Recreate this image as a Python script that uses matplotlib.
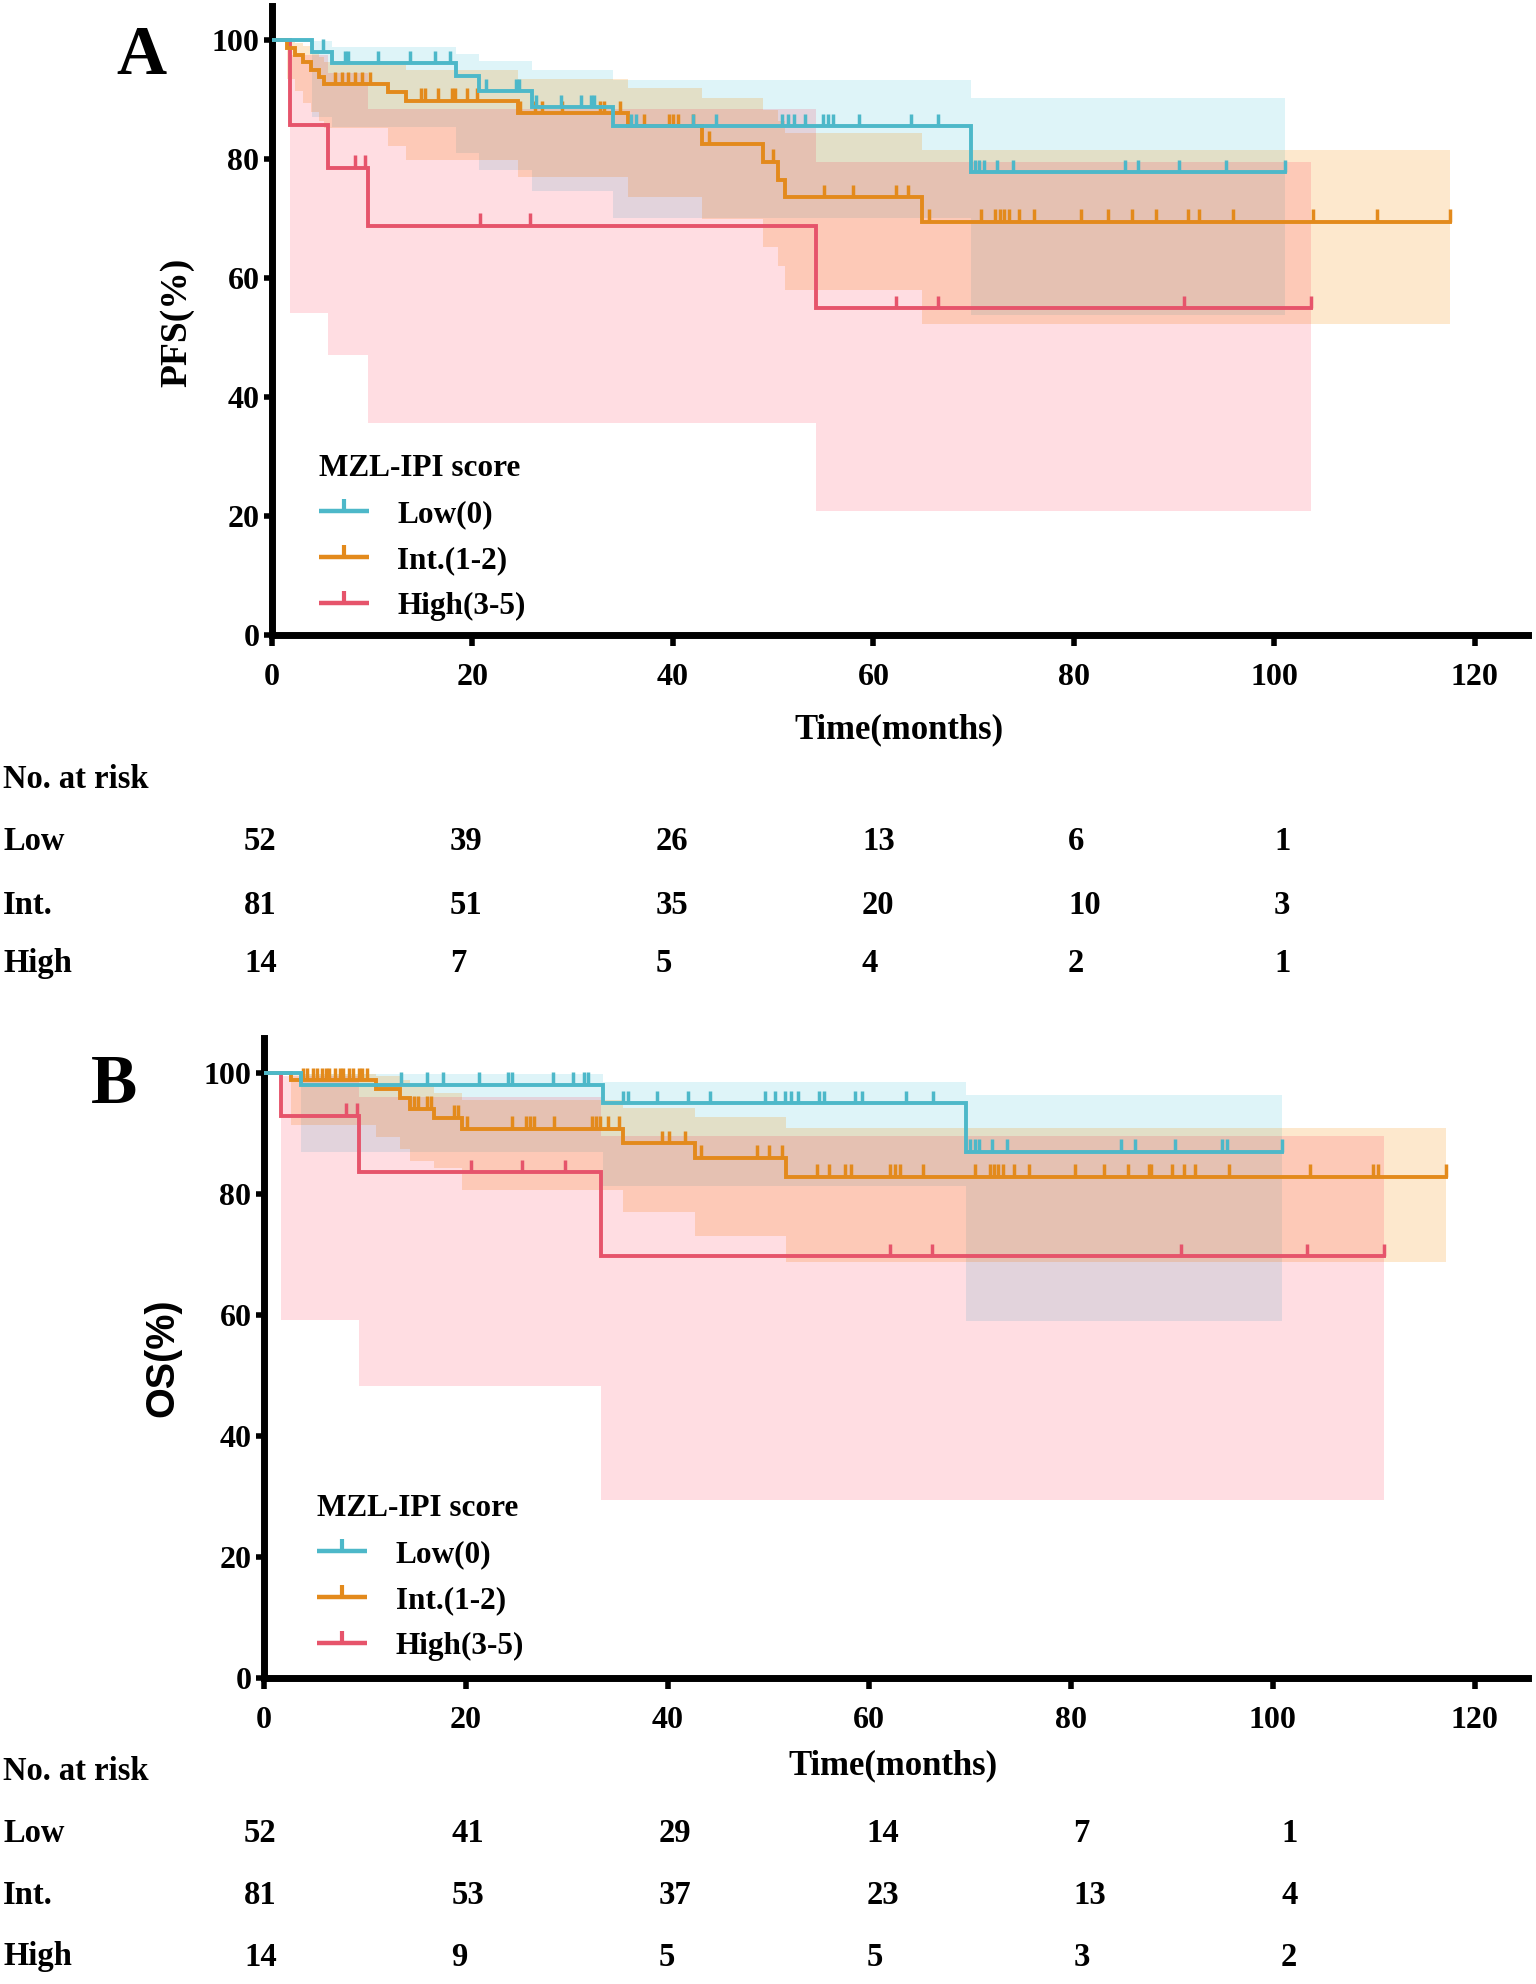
import numpy as np
import matplotlib.pyplot as plt
from matplotlib.path import Path
from matplotlib.lines import Line2D

plt.rcParams['font.family'] = ['Liberation Serif', 'DejaVu Serif']
plt.rcParams['font.weight'] = 'bold'

groups = ['Low(0)', 'Int.(1-2)', 'High(3-5)']
row_names = ['Low', 'Int.', 'High']
line_colors = ['#4DB8C9', '#E38A1C', '#E6546B']
# dark tints with low alpha, so that overlapping bands darken like a multiply blend
band_colors = ['#00AAC9', '#F58A00', '#FF002C']
band_alpha = [0.129, 0.196, 0.133]

# ---------------- PFS (panel A) ----------------
pfs_low_t = [0, 4.0, 6.0, 18.4, 20.7, 25.9, 34.0, 69.7]
pfs_low_s = [100, 98.1, 96.2, 94.0, 91.5, 88.8, 85.6, 77.8]
pfs_low_end = 101.1
pfs_low_cens = [5.1, 7.3, 7.6, 10.6, 13.8, 16.3, 17.8, 21.3, 24.3, 24.6, 26.3, 28.8,
                30.8, 31.8, 32.1, 35.8, 36.3, 42.0, 44.3, 50.9, 51.5, 52.1, 53.2, 55.0,
                55.5, 56.0, 58.6, 63.7, 66.4, 70.1, 70.5, 71.0, 72.3, 73.9, 85.1, 86.4,
                90.5, 95.2, 101.1]
pfs_low_bt = [4.0, 6.0, 18.4, 20.7, 25.9, 34.0, 69.7]
pfs_low_up = [99.9, 98.9, 97.8, 96.5, 95.0, 93.3, 90.3]
pfs_low_lo = [87.1, 85.5, 81.0, 78.2, 74.6, 70.1, 53.8]

pfs_int_t = [0, 1.5, 2.3, 3.1, 3.9, 4.7, 5.2, 11.6, 13.4, 24.5, 35.5, 42.9, 49.0, 50.5, 51.2, 64.8]
pfs_int_s = [100, 98.8, 97.5, 96.3, 95.1, 93.8, 92.6, 91.4, 89.9, 87.8, 85.6, 82.6, 79.6, 76.5, 73.6, 69.5]
pfs_int_end = 117.5
pfs_int_cens = [6.3, 6.95, 7.6, 8.3, 8.95, 9.8, 14.9, 15.3, 16.6, 18.0, 18.3, 19.5, 20.5,
                24.7, 26.2, 26.9, 28.9, 32.7, 33.1, 34.7, 37.1, 39.6, 40.0, 40.5, 42.0,
                43.6, 50.0, 55.1, 58.0, 62.3, 63.4, 65.5, 70.7, 72.1, 72.6, 73.0, 73.5,
                74.5, 76.0, 80.7, 83.4, 85.8, 88.2, 91.4, 92.5, 95.9, 103.9, 110.2, 117.5]
pfs_int_bt = [1.5, 2.3, 3.1, 3.9, 4.7, 5.2, 11.6, 13.4, 24.5, 35.5, 42.9, 49.0, 50.5, 51.2, 64.8]
pfs_int_up = [99.8, 99.5, 99.0, 98.2, 97.3, 96.3, 95.8, 95.0, 93.5, 92.0, 90.3, 88.3, 86.5, 84.4, 81.5]
pfs_int_lo = [93.5, 91.5, 89.5, 88.0, 86.5, 85.2, 82.2, 79.9, 77.1, 73.7, 70.0, 65.3, 62.0, 58.0, 52.3]

pfs_high_t = [0, 1.8, 5.6, 9.6, 54.3]
pfs_high_s = [100, 85.7, 78.6, 68.8, 55.0]
pfs_high_end = 103.7
pfs_high_cens = [8.3, 9.3, 20.8, 25.7, 62.3, 66.4, 91.0, 103.7]
pfs_high_bt = [1.8, 5.6, 9.6, 54.3]
pfs_high_up = [97.5, 94.5, 88.4, 79.6]
pfs_high_lo = [54.1, 47.1, 35.6, 20.8]

# ---------------- OS (panel B) ----------------
os_low_t = [0, 3.7, 33.6, 69.6]
os_low_s = [100, 98.1, 95.0, 87.0]
os_low_end = 100.9
os_low_cens = [13.6, 16.2, 17.7, 21.3, 24.2, 24.6, 28.6, 30.6, 31.7, 32.1, 35.6, 36.1, 39.0,
               42.0, 44.2, 49.7, 50.7, 51.6, 52.2, 52.9, 55.0, 55.5, 58.6, 59.3, 63.6, 66.3,
               70.0, 70.5, 70.9, 72.2, 73.7, 85.0, 86.3, 90.3, 95.0, 95.5, 100.9]
os_low_bt = [3.7, 33.6, 69.6]
os_low_up = [99.9, 98.5, 96.4]
os_low_lo = [87.0, 81.3, 59.0]

os_int_t = [0, 2.7, 11.1, 13.5, 14.5, 16.9, 19.6, 35.6, 42.7, 51.7]
os_int_s = [100, 98.8, 97.3, 95.8, 94.1, 92.6, 90.8, 88.4, 86.0, 82.9]
os_int_end = 117.2
os_int_cens = [3.9, 4.3, 4.9, 5.3, 5.7, 6.1, 6.4, 7.0, 7.5, 7.8, 8.4, 8.8, 9.4, 9.7, 10.2,
               14.9, 15.3, 16.2, 16.6, 18.8, 19.2, 20.1, 24.6, 26.0, 26.4, 26.8, 28.7, 32.5,
               32.9, 33.3, 34.1, 35.2, 39.5, 40.1, 41.7, 43.3, 48.9, 50.1, 51.3, 54.8, 56.0,
               57.6, 58.2, 62.1, 62.6, 63.0, 65.3, 70.5, 72.0, 72.4, 72.8, 73.3, 74.3, 75.8,
               80.4, 83.3, 85.6, 87.7, 87.9, 90.0, 91.2, 92.3, 95.7, 103.7, 109.95, 110.4, 117.2]
os_int_bt = [2.7, 11.1, 13.5, 14.5, 16.9, 19.6, 35.6, 42.7, 51.7]
os_int_up = [99.9, 99.5, 98.8, 97.8, 96.7, 95.6, 94.2, 92.8, 90.9]
os_int_lo = [91.4, 89.5, 87.5, 85.4, 84.3, 80.7, 77.1, 73.1, 68.7]

os_high_t = [0, 1.65, 9.4, 33.4]
os_high_s = [100, 92.9, 83.6, 69.7]
os_high_end = 111.0
os_high_cens = [8.1, 9.2, 20.5, 25.6, 29.8, 62.1, 66.2, 90.9, 103.4, 111.0]
os_high_bt = [1.65, 9.4, 33.4]
os_high_up = [99.5, 96.0, 89.6]
os_high_lo = [59.2, 48.3, 29.5]

# number at risk at 0, 20, ..., 100 months
risk_pfs = [[52, 39, 26, 13, 6, 1], [81, 51, 35, 20, 10, 3], [14, 7, 5, 4, 2, 1]]
risk_os = [[52, 41, 29, 14, 7, 1], [81, 53, 37, 23, 13, 4], [14, 9, 5, 5, 3, 2]]

W, H = 1536, 1984
fig = plt.figure(figsize=(W / 100, H / 100), dpi=100)

tick_path = Path([(0, 0), (0, 1)], [Path.MOVETO, Path.LINETO])


def km_band(ax, t_end, bt, up, lo, k):
    bx = list(bt) + [t_end]
    ax.fill_between(bx, list(lo) + [lo[-1]], list(up) + [up[-1]], step='post',
                    color=band_colors[k], alpha=band_alpha[k], lw=0, zorder=1 + k * 0.1)


def km_line(ax, t, s, t_end, cens, k):
    ax.plot(list(t) + [t_end], list(s) + [s[-1]], drawstyle='steps-post',
            color=line_colors[k], lw=2.8, zorder=5, solid_joinstyle='miter')
    idx = np.searchsorted(t, cens, side='right') - 1
    cy = np.array(s)[idx]
    ax.vlines(cens, cy, cy + 2.1, color=line_colors[k], lw=2.5, zorder=5)


def style_axes(ax):
    ax.set_xlim(0, 125.3)
    ax.set_ylim(0, 105.8)
    ax.spines['top'].set_visible(False)
    ax.spines['right'].set_visible(False)
    ax.spines['left'].set_linewidth(5)
    ax.spines['bottom'].set_linewidth(5)
    ax.set_xticks(np.arange(0, 121, 20))
    ax.set_yticks(np.arange(0, 101, 20))
    ax.tick_params(axis='both', length=6, width=4, labelsize=23)
    ax.tick_params(axis='x', pad=12, length=8)
    ax.tick_params(axis='y', pad=3)
    for lab in ax.get_xticklabels() + ax.get_yticklabels():
        lab.set_fontweight('bold')


def legend(ax, anchor):
    handles = [Line2D([0], [0], color=c, lw=3.2, marker=tick_path, markersize=18,
                      markeredgewidth=3, markerfacecolor='none', markeredgecolor=c,
                      solid_capstyle='butt')
               for c in line_colors]
    ax.legend(handles, groups, title='MZL-IPI score', loc='upper left',
              bbox_to_anchor=anchor, frameon=False, numpoints=1,
              prop={'family': 'Liberation Serif', 'weight': 'bold', 'size': 22.5},
              title_fontproperties={'family': 'Liberation Serif', 'weight': 'bold', 'size': 22.5},
              handlelength=1.6, handletextpad=0.9, labelspacing=0.55,
              alignment='left', borderpad=0.4)


def risk_table(rows, y_head, y_rows, x_left, x_right):
    cols = np.linspace(x_left, x_right, 6) / W
    fig.text(3 / W, 1 - y_head / H, 'No. at risk', fontsize=23.5, fontweight='bold',
             ha='left', va='center')
    for name, vals, yr in zip(row_names, rows, y_rows):
        fig.text(3 / W, 1 - yr / H, name, fontsize=23.5, fontweight='bold', ha='left', va='center')
        for cx, v in zip(cols, vals):
            fig.text(cx, 1 - yr / H, str(v), fontsize=23.5, fontweight='bold', ha='left', va='center')


def panel(ax, curves):
    style_axes(ax)
    for k in [2, 1, 0]:
        t, s, te, c, bt, up, lo = curves[k]
        km_band(ax, te, bt, up, lo, k)
    for k in [2, 1, 0]:
        t, s, te, c = curves[k][:4]
        km_line(ax, t, s, te, c, k)


# ---------------- panel A ----------------
axA = fig.add_axes([272 / W, 1 - 635 / H, (1528 - 272) / W, (635 - 6) / H])
panel(axA, [
    (pfs_low_t, pfs_low_s, pfs_low_end, pfs_low_cens, pfs_low_bt, pfs_low_up, pfs_low_lo),
    (pfs_int_t, pfs_int_s, pfs_int_end, pfs_int_cens, pfs_int_bt, pfs_int_up, pfs_int_lo),
    (pfs_high_t, pfs_high_s, pfs_high_end, pfs_high_cens, pfs_high_bt, pfs_high_up, pfs_high_lo),
])
legend(axA, (0.015, 0.333))
fig.text(177 / W, 1 - 322 / H, 'PFS(%)', rotation=90, fontsize=27, fontweight='bold',
         ha='center', va='center')
fig.text(899 / W, 1 - 730 / H, 'Time(months)', fontsize=25, fontweight='bold',
         ha='center', va='center')
fig.text(141 / W, 1 - 57 / H, 'A', fontsize=50, fontweight='bold', ha='center', va='center')
risk_table(risk_pfs, 780, [842, 905, 964], 244, 1274)

# ---------------- panel B ----------------
axB = fig.add_axes([264 / W, 1 - 1678 / H, (1528 - 264) / W, (1678 - 1038) / H])
panel(axB, [
    (os_low_t, os_low_s, os_low_end, os_low_cens, os_low_bt, os_low_up, os_low_lo),
    (os_int_t, os_int_s, os_int_end, os_int_cens, os_int_bt, os_int_up, os_int_lo),
    (os_high_t, os_high_s, os_high_end, os_high_cens, os_high_bt, os_high_up, os_high_lo),
])
legend(axB, (0.02, 0.332))
fig.text(162 / W, 1 - 1358 / H, 'OS(%)', rotation=90, fontsize=28.5, fontweight='bold',
         family='Liberation Sans', ha='center', va='center')
fig.text(893 / W, 1 - 1766 / H, 'Time(months)', fontsize=25, fontweight='bold',
         ha='center', va='center')
fig.text(114 / W, 1 - 1086 / H, 'B', fontsize=50, fontweight='bold', ha='center', va='center')
risk_table(risk_os, 1771, [1833, 1896, 1957], 244, 1281)

fig.savefig('out.png', dpi=100)
